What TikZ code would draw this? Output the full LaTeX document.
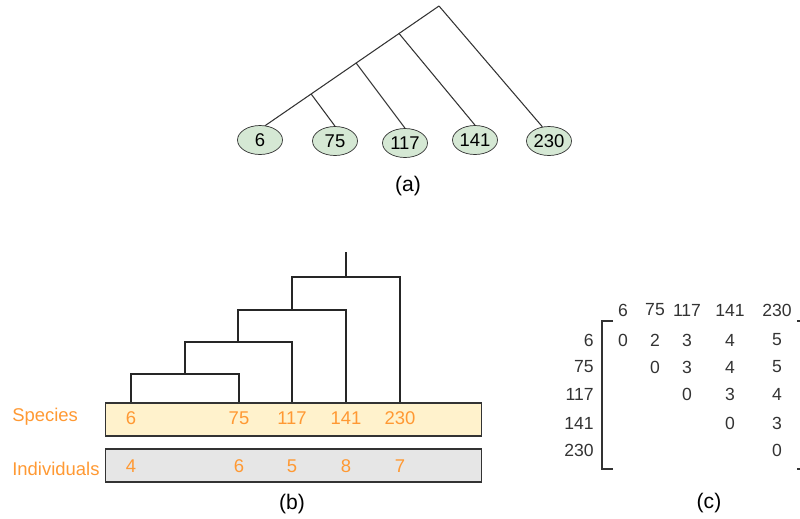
\documentclass[tikz,border=0pt]{standalone}
\usepackage{fontspec}
\setmainfont{Liberation Sans}
\usetikzlibrary{shapes.geometric}
\definecolor{leafgreen}{HTML}{D5E8D4}
\definecolor{taxorange}{HTML}{FF9933}
\definecolor{speciesfill}{HTML}{FFF2CC}
\definecolor{indivfill}{HTML}{E6E6E6}
\definecolor{edgegray}{HTML}{333333}
\begin{document}
\begin{tikzpicture}[x=0.02cm, y=-0.02cm,
  leaf/.style={ellipse, draw=edgegray, fill=leafgreen, minimum width=0.9cm,
    minimum height=0.58cm, inner sep=0pt, font=\fontsize{10.5}{12}\selectfont},
  branch/.style={edgegray, line width=0.6pt},
  dendro/.style={black!85, line width=1.1pt},
  rowbox/.style={draw=edgegray, line width=0.6pt, minimum width=7.54cm,
    minimum height=0.66cm, inner sep=0pt},
  taxon/.style={taxorange, inner sep=0pt, font=\fontsize{10.5}{12}\selectfont},
  mat/.style={inner sep=0pt, text=black!80, font=\fontsize{10}{12}\selectfont},
  caption/.style={inner sep=0pt, font=\fontsize{12}{14}\selectfont}]
  \useasboundingbox (0,0) rectangle (800,518);
  % (a) Tree with leaf ellipses
  \node[leaf] (e6)   at (260,140) {6};
  \node[leaf] (e75)  at (335,141) {75};
  \node[leaf] (e117) at (405,143) {117};
  \node[leaf] (e141) at (475,140) {141};
  \node[leaf] (e230) at (549,141) {230};
  \coordinate (root) at (439,6);
  \draw[branch] (root) -- (e6.70)
    coordinate[pos=0.230] (j3) coordinate[pos=0.477] (j2) coordinate[pos=0.736] (j1);
  \draw[branch] (j1) -- (e75.north);
  \draw[branch] (j2) -- (e117.north);
  \draw[branch] (j3) -- (e141.north);
  \draw[branch] (root) -- (e230.115);
  \node[caption] (capa) at (408,186) {(a)};
  % (b) Dendrogram over species and individuals
  \node[rowbox, fill=speciesfill] (spbox) at (293.5,419.5) {};
  \node[rowbox, fill=indivfill] (inbox) at (293.5,465.5) {};
  \node[taxon, anchor=west] (splab) at (12,417) {Species};
  \node[taxon, anchor=west] (inlab) at (12,469) {Individuals};
  \foreach \sp/\n/\cx in {6/4/131, 75/6/239, 117/5/292, 141/8/346, 230/7/400} {
    \node[taxon] (sp\sp) at (\cx,418) {\sp};
    \node[taxon] (in\sp) at (\cx,466) {\n};
  }
  \coordinate (k1) at (185,374);
  \coordinate (k2) at (238,342);
  \coordinate (k3) at (292,310);
  \coordinate (k4) at (346,277);
  \coordinate (ktop) at (346,252);
  \draw[dendro] (sp6 |- spbox.north) |- (k1) -| (sp75 |- spbox.north);
  \draw[dendro] (k1) |- (k2) -| (sp117 |- spbox.north);
  \draw[dendro] (k2) |- (k3) -| (sp141 |- spbox.north);
  \draw[dendro] (k3) |- (k4) -| (sp230 |- spbox.north);
  \draw[dendro] (k4) -- (ktop);
  \node[caption] (capb) at (292,504) {(b)};
  % (c) Distance matrix
  \foreach \lab/\cx in {6/623, 75/655, 117/687, 141/730, 230/777} {
    \node[mat] (col\lab) at (\cx,310) {\lab};
  }
  \foreach \lab/\ry in {6/340, 75/367, 117/394, 141/423, 230/450} {
    \node[mat, anchor=east] (row\lab) at (594,\ry) {\lab};
  }
  \foreach \v/\cx/\ry in {0/623/340, 2/655/340, 3/687/340, 4/730/340, 5/777/340,
      0/655/367, 3/687/367, 4/730/367, 5/777/367,
      0/687/394, 3/730/394, 4/777/394,
      0/730/423, 3/777/423,
      0/777/450} {
    \node[mat] at (\cx,\ry) {\v};
  }
  % Brackets
  \draw[black!80, line width=0.9pt] (613,321) -| (602,469) -- (613,469);
  \draw[black!80, line width=0.9pt] (797,321) -- (801,321);
  \draw[black!80, line width=0.9pt] (797,469) -- (801,469);
  \node[caption] (capc) at (709,503) {(c)};
\end{tikzpicture}
\end{document}
